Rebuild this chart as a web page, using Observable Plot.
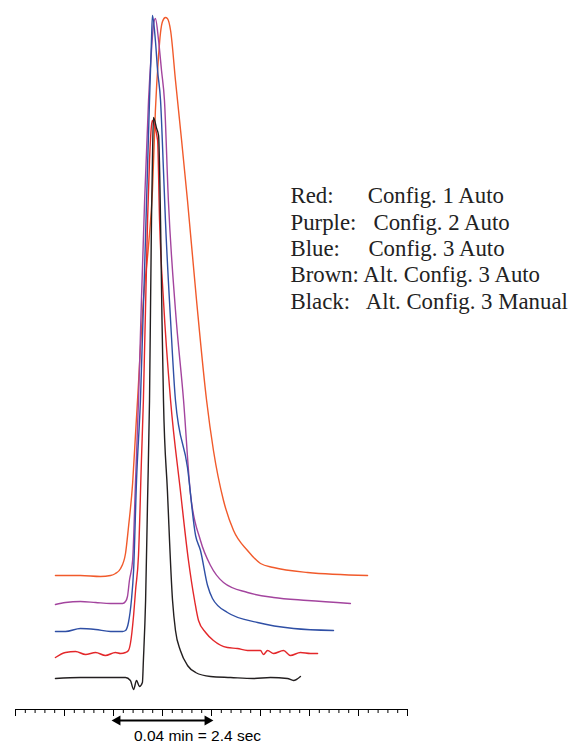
<!DOCTYPE html>
<html>
<head>
<meta charset="utf-8">
<script src="https://cdn.jsdelivr.net/npm/d3@7"></script>
<script src="https://cdn.jsdelivr.net/npm/@observablehq/plot@0.6"></script>
<style>
  html, body { margin: 0; padding: 0; background: #fff; }
  #chart svg text { white-space: pre; }
</style>
</head>
<body>
<div id="chart"></div>
<script>
// ---- Data (time in minutes, signal above each trace's own baseline, arbitrary units) ----
const seriesNames = ["Red", "Purple", "Blue", "Brown", "Black"];
const seriesConfigs = ["Config. 1 Auto", "Config. 2 Auto", "Config. 3 Auto", "Alt. Config. 3 Auto", "Alt. Config. 3 Manual"];
const baselineOffsets = [134, 106, 78, 54, 31];

const redTime = [0.0163,0.0265,0.0347,0.0388,0.0408,0.0429,0.0449,0.0461,0.0478,0.0490,0.0498,0.0522,0.0543,0.0559,0.0571,0.0584,0.0592,0.0600,0.0612,0.0620,0.0633,0.0653,0.0678,0.0702,0.0739,0.0780,0.0808,0.0849,0.0890,0.0947,0.1000,0.1053,0.1192,0.1437];
const redSignal = [0,0,-1,0,2,7,22,48,92,142,175,275,330,385,465,520,543,554,558,557,545,495,435,375,275,175,125,75,45,25,12,8,3,0];

const purpleTime = [0.0163,0.0204,0.0265,0.0327,0.0388,0.0437,0.0449,0.0457,0.0465,0.0478,0.0490,0.0502,0.0514,0.0527,0.0543,0.0555,0.0563,0.0571,0.0584,0.0596,0.0608,0.0624,0.0653,0.0686,0.0714,0.0755,0.0796,0.0849,0.0947,0.1053,0.1192,0.1367];
const purpleSignal = [-1,1,2,1,0,0,2,7,23,43,123,203,303,403,503,553,578,585,563,533,503,403,293,203,110,63,38,21,11,6,3,0];

const blueTime = [0.0163,0.0204,0.0265,0.0327,0.0388,0.0437,0.0449,0.0461,0.0473,0.0482,0.0494,0.0510,0.0535,0.0547,0.0555,0.0559,0.0571,0.0580,0.0592,0.0604,0.0612,0.0633,0.0653,0.0702,0.0735,0.0755,0.0784,0.0804,0.0865,0.0988,0.1135,0.1298];
const blueSignal = [0,0,3,2,0,0,1,9,31,61,151,231,431,531,591,616,591,561,531,461,411,311,231,164,96,81,46,33,19,9,3,1];

const brownTime = [0.0163,0.0204,0.0245,0.0286,0.0327,0.0367,0.0408,0.0429,0.0449,0.0461,0.0469,0.0482,0.0490,0.0502,0.0514,0.0522,0.0539,0.0547,0.0555,0.0559,0.0567,0.0580,0.0588,0.0604,0.0633,0.0673,0.0706,0.0731,0.0747,0.0776,0.0808,0.0865,0.0906,0.0947,0.1000,0.1012,0.1029,0.1053,0.1094,0.1122,0.1163,0.1204,0.1233];
const brownSignal = [-2,3,4,1,3,0,3,2,3,5,12,40,65,100,195,255,435,495,530,535,530,515,435,355,255,165,95,55,35,23,15,8,7,5,5,1,5,2,5,0,3,2,2];

const blackTime = [0.0163,0.0265,0.0347,0.0449,0.0469,0.0482,0.0494,0.0506,0.0518,0.0522,0.0531,0.0539,0.0547,0.0555,0.0559,0.0563,0.0576,0.0584,0.0592,0.0598,0.0604,0.0620,0.0641,0.0653,0.0673,0.0702,0.0735,0.0796,0.0878,0.0971,0.1041,0.1110,0.1135,0.1163];
const blackSignal = [0,1,1,1,-2,-11,-2,-8,-4,18,78,178,278,458,518,561,550,543,458,358,278,188,78,48,28,13,6,2,1,0,1,0,-2,2];

const majorTicks = [0, 0.02, 0.04, 0.06, 0.08, 0.10, 0.12, 0.14, 0.16];
const minorTicks = [0,0.004,0.008,0.012,0.016,0.02,0.024,0.028,0.032,0.036,0.04,0.044,0.048,0.052,0.056,0.06,0.064,0.068,0.072,0.076,0.08,0.084,0.088,0.092,0.096,0.1,0.104,0.108,0.112,0.116,0.12,0.124,0.128,0.132,0.136,0.14,0.144,0.148,0.152,0.156,0.16];
const scaleBar = [0.04, 0.08];
const scaleBarLabel = "0.04 min = 2.4 sec";

// ---- Build tables ----
const times = [redTime, purpleTime, blueTime, brownTime, blackTime];
const signals = [redSignal, purpleSignal, blueSignal, brownSignal, blackSignal];
const colors = ["#f15a2b", "#a3449e", "#2f4fa5", "#e3272a", "#231f20"];
const traces = seriesNames.map((name, i) => ({
  name, color: colors[i],
  rows: times[i].map((t, j) => ({t, v: baselineOffsets[i] + signals[i][j]}))
}));

const gaps = [6, 3, 5, 1, 3];
const legendText = seriesNames.map((n, i) => n + ":" + " ".repeat(gaps[i]) + seriesConfigs[i]).join("\n");

const chart = Plot.plot({
  width: 571,
  height: 744,
  marginLeft: 15,
  marginRight: 164,
  marginTop: 9,
  marginBottom: 35,
  x: {domain: [0, 0.16]},
  y: {domain: [0, 700], axis: null},
  style: {background: "#fff"},
  marks: [
    Plot.ruleY([0], {x1: 0, x2: 0.16, stroke: "#000", strokeWidth: 1}),
    Plot.axisX(majorTicks, {tickSize: 7, fill: "none", stroke: "#000", label: null}),
    Plot.axisX(minorTicks, {tickSize: 4, fill: "none", stroke: "#000", label: null}),
    ...traces.map(tr => Plot.line(tr.rows, {x: "t", y: "v", stroke: tr.color, strokeWidth: 1.4, curve: "monotone-x"})),
    Plot.ruleY([-11], {x1: scaleBar[0], x2: scaleBar[1], stroke: "#000", strokeWidth: 2, insetLeft: 4, insetRight: 4}),
    Plot.dot([scaleBar[0]], {x: d => d, y: -11, symbol: "triangle", rotate: -90, r: 3.8, fill: "#000", stroke: "none", dx: 4}),
    Plot.dot([scaleBar[1]], {x: d => d, y: -11, symbol: "triangle", rotate: 90, r: 3.8, fill: "#000", stroke: "none", dx: -4}),
    Plot.text([scaleBarLabel], {x: 0.0743, y: -27, text: d => d, fontSize: 15.5, fontFamily: "Liberation Sans", fill: "#000", textAnchor: "middle", lineAnchor: "middle"}),
    Plot.text([legendText], {frameAnchor: "top-left", dx: 275, dy: 175, text: d => d, fontSize: 22.8, fontFamily: "Liberation Serif", fill: "#222", textAnchor: "start", lineAnchor: "top", lineHeight: 1.155})
  ]
});
document.getElementById("chart").appendChild(chart);
</script>
</body>
</html>
